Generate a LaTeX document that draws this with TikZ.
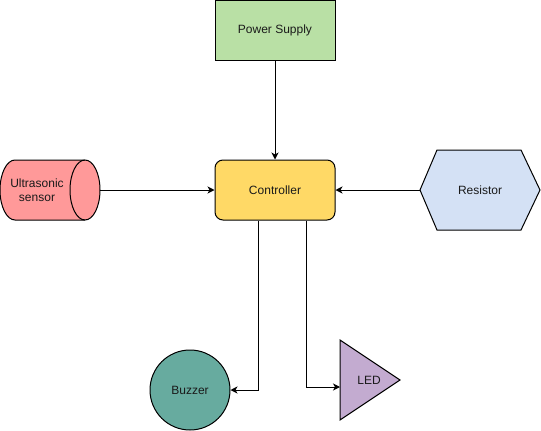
\documentclass[tikz,border=0pt]{standalone}
\usepackage{fontspec}
\setmainfont{Liberation Sans}
\usetikzlibrary{shapes.geometric,arrows.meta}
\definecolor{psfill}{HTML}{B9E0A5}
\definecolor{ctfill}{HTML}{FFD966}
\definecolor{usfill}{HTML}{FF9999}
\definecolor{rsfill}{HTML}{D4E1F5}
\definecolor{bzfill}{HTML}{67AB9F}
\definecolor{ledfill}{HTML}{C3ABD0}
\definecolor{txt}{HTML}{1A1A1A}
\tikzset{
  x=1pt, y=-1pt,
  every node/.style={font=\fontsize{12}{14}\selectfont, text=txt, inner sep=0pt},
  box/.style={draw=black, line width=1pt, minimum width=120pt, minimum height=60pt},
  shapeline/.style={draw=black, line width=1pt},
  conn/.style={line width=1pt, -{Stealth[length=7pt,width=7pt,inset=2pt]}},
}
\begin{document}
\begin{tikzpicture}
\useasboundingbox (0,0) rectangle (541,431);
% Power supply
\node[box, fill=psfill] (ps) at (275,30) {Power Supply};
% Controller
\node[box, fill=ctfill, rounded corners=8pt] (ct) at (275,190) {Controller};
% Ultrasonic sensor (cylinder)
\coordinate (us) at (50,190);
\coordinate (usr) at (100,190);
\path[shapeline, fill=usfill] (15,160) -- (85,160) arc[start angle=90, end angle=-90, x radius=15pt, y radius=30pt] -- (15,220) arc[start angle=270, end angle=90, x radius=15pt, y radius=30pt] -- cycle;
\draw[line width=1pt] (85,160) arc[start angle=90, end angle=270, x radius=15pt, y radius=30pt];
\node[align=center] (ustext) at (37,190) {Ultrasonic\\sensor};
% Resistor (hexagon)
\node[minimum width=120pt, minimum height=80pt] (rs) at (480,190) {};
\path[shapeline, fill=rsfill] (420,190) -- (437,150) -- (521,150) -- (540,190) -- (521,230) -- (437,230) -- cycle;
\node (rstext) at (480,190) {Resistor};
% Buzzer
\node[circle, shapeline, fill=bzfill, minimum size=80pt] (bz) at (190,390) {Buzzer};
% LED triangle
\coordinate (ledl) at (340,387);
\path[shapeline, fill=ledfill] (340,340) -- (400,380) -- (340,420) -- cycle;
\node (led) at (369,380) {LED};
% connectors
\draw[conn] (ps.south) -- (ct.north);
\draw[conn] (usr) -- (ct.west);
\draw[conn] (rs.west) -- (ct.east);
\draw[conn] (ct.south -| 258,0) |- (bz.east);
\draw[conn] (ct.south -| 306,0) |- (ledl);
\end{tikzpicture}
\end{document}
